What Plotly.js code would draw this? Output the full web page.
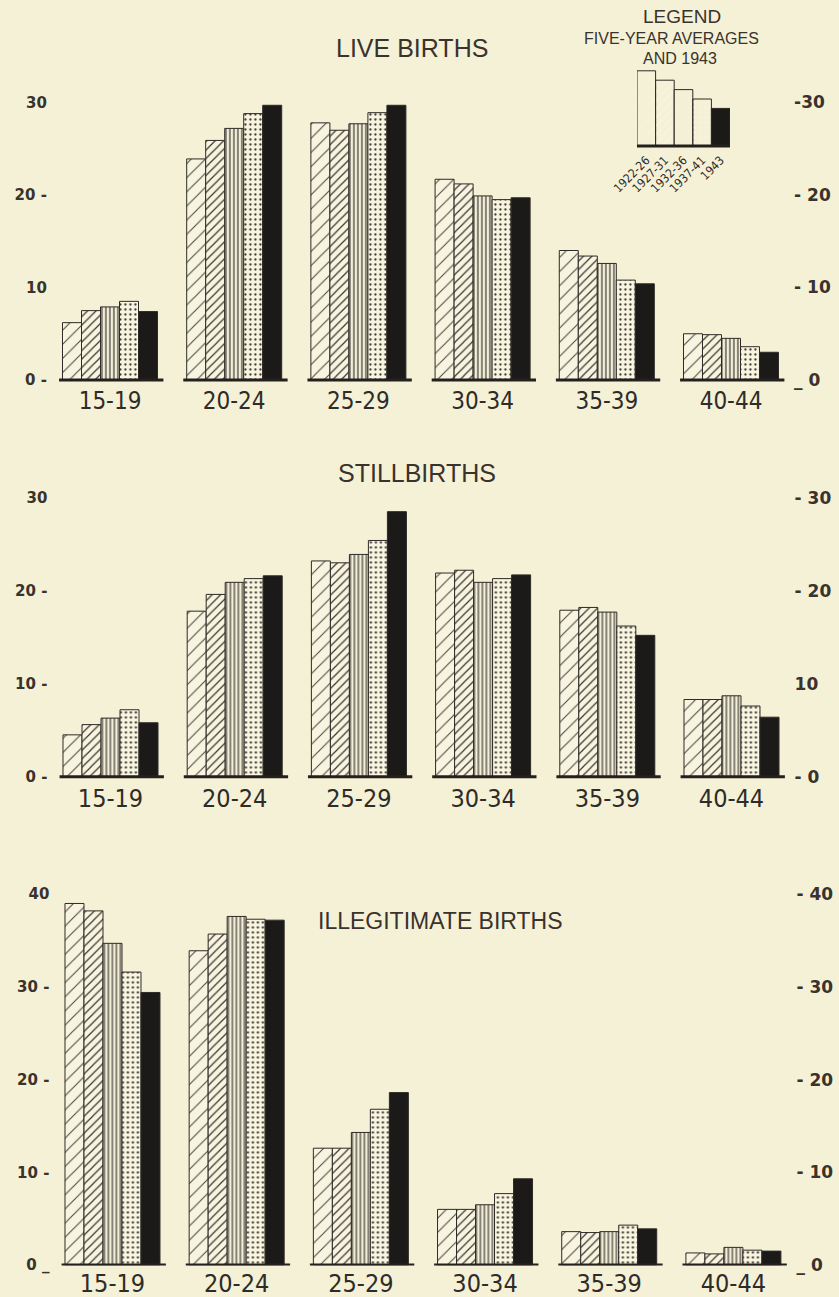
<!DOCTYPE html>
<html>
<head>
<meta charset="utf-8">
<script src="https://cdn.plot.ly/plotly-3.0.1.min.js"></script>
<style>
  html, body { margin: 0; padding: 0; background: #f4f1d7; }
  #chart { width: 839px; height: 1297px; }
</style>
</head>
<body>
<div id="chart"></div>
<script>
// ---------- data ----------
const ageGroups = ["15-19", "20-24", "25-29", "30-34", "35-39", "40-44"];
const periods = ["1922-26", "1927-31", "1932-36", "1937-41", "1943"];

// Live births, percent by age of mother (one array per period, ages in order)
const liveBirths1922 = [6.2, 23.9, 27.8, 21.7, 14.0, 5.0];
const liveBirths1927 = [7.5, 25.9, 27.0, 21.2, 13.4, 4.9];
const liveBirths1932 = [7.9, 27.2, 27.7, 19.9, 12.6, 4.5];
const liveBirths1937 = [8.5, 28.8, 28.9, 19.5, 10.8, 3.6];
const liveBirths1943 = [7.4, 29.7, 29.7, 19.7, 10.4, 3.0];

// Stillbirths
const stillBirths1922 = [4.5, 17.8, 23.2, 21.9, 17.9, 8.3];
const stillBirths1927 = [5.6, 19.6, 23.0, 22.2, 18.2, 8.3];
const stillBirths1932 = [6.3, 20.9, 23.9, 20.9, 17.7, 8.7];
const stillBirths1937 = [7.2, 21.3, 25.4, 21.3, 16.2, 7.6];
const stillBirths1943 = [5.8, 21.6, 28.5, 21.7, 15.2, 6.4];

// Illegitimate births
const illegit1922 = [39.0, 33.9, 12.6, 6.0, 3.6, 1.3];
const illegit1927 = [38.2, 35.7, 12.6, 6.0, 3.5, 1.2];
const illegit1932 = [34.7, 37.6, 14.3, 6.5, 3.6, 1.9];
const illegit1937 = [31.6, 37.3, 16.8, 7.7, 4.3, 1.6];
const illegit1943 = [29.4, 37.2, 18.6, 9.3, 3.9, 1.5];

// Legend key bars (illustrative staircase)
const legendHeights = [8, 7, 6, 5, 4];

const ticks30 = [0, 10, 20, 30];
const ticks40 = [0, 10, 20, 30, 40];

// ---------- styling ----------
const W = 839, H = 1297;
const BG = "#f4f1d7";
const INK = "#3a322d";
const FILL = "#f7f4e0";
const NARROW = "Liberation Sans Narrow, Arial Narrow, DejaVu Sans Condensed, sans-serif";
const styles = [
  { shape: "/", size: 10, solidity: 0.10, fg: "#4a4540", bg: FILL },
  { shape: "/", size: 6, solidity: 0.20, fg: "#3a3530", bg: FILL },
  { shape: "|", size: 4, solidity: 0.32, fg: "#4a4540", bg: "#f2efd8" },
  { shape: ".", size: 5, solidity: 0.16, fg: "#3a3530", bg: FILL },
  { shape: "", size: 8, solidity: 0.3, fg: "#1c1a19", bg: "#1c1a19" }
];

const panels = [
  { series: [liveBirths1922, liveBirths1927, liveBirths1932, liveBirths1937, liveBirths1943],
    base: 380, ppu: 9.25, top: 62, bottom: 384, xl: 47.9, xr: 793.1,
    tickv: ticks30, left: ["0 -", "10", "20 -", "30"], right: ["_ 0", "- 10", "- 20", "-30"], catSize: 24 },
  { series: [stillBirths1922, stillBirths1927, stillBirths1932, stillBirths1937, stillBirths1943],
    base: 776.7, ppu: 9.3, top: 470, bottom: 781, xl: 48.4, xr: 793.6,
    tickv: ticks30, left: ["0 -", "10 -", "20 -", "30"], right: ["- 0", "10", "- 20", "- 30"], catSize: 25 },
  { series: [illegit1922, illegit1927, illegit1932, illegit1937, illegit1943],
    base: 1265, ppu: 9.27, top: 870, bottom: 1265.5, xl: 50.4, xr: 795.5,
    tickv: ticks40, left: ["0 _", "10 -", "20 -", "30 -", "40"], right: ["_ 0", "- 10", "- 20", "- 30", "- 40"], catSize: 25 }
];

const data = [];
const shapes = [];
const layout = {
  width: W, height: H,
  margin: { l: 0, r: 0, t: 0, b: 0 },
  paper_bgcolor: BG, plot_bgcolor: "rgba(0,0,0,0)",
  showlegend: false,
  barmode: "group", bargap: 0.235, bargroupgap: 0,
  annotations: [], shapes: shapes
};

panels.forEach((p, k) => {
  const xa = k === 0 ? "x" : "x" + (k + 1);
  const ya = k === 0 ? "y" : "y" + (k + 1);
  const yr = "y" + (k + 4);
  const yRange = [-(p.bottom - p.base) / p.ppu, (p.base - p.top) / p.ppu];
  const yDom = [1 - p.bottom / H, 1 - p.top / H];

  p.series.forEach((vals, s) => {
    const st = styles[s];
    const m = { color: st.bg, line: { width: 1, color: "#2e2a27" } };
    if (st.shape) m.pattern = { shape: st.shape, size: st.size, solidity: st.solidity, fgcolor: st.fg, bgcolor: st.bg, fillmode: "replace" };
    data.push({ type: "bar", name: periods[s], x: ageGroups, y: vals, xaxis: xa, yaxis: ya, marker: m, hoverinfo: "x+y+name" });
  });
  // invisible trace to host the right-hand axis
  data.push({ type: "scatter", mode: "markers", x: [ageGroups[0]], y: [0], xaxis: xa, yaxis: yr,
              marker: { opacity: 0 }, hoverinfo: "skip", showlegend: false });

  layout["xaxis" + (k === 0 ? "" : k + 1)] = {
    domain: [p.xl / W, p.xr / W], anchor: ya, type: "category",
    range: [-0.5, ageGroups.length - 0.5],
    showgrid: false, zeroline: false, showline: false, ticks: "",
    tickfont: { family: NARROW, size: p.catSize, color: "#2f2b28" },
    fixedrange: true
  };
  const yCommon = {
    domain: yDom, range: yRange, showgrid: false, zeroline: false, showline: false, ticks: "",
    tickmode: "array", tickvals: p.tickv, fixedrange: true
  };
  layout["yaxis" + (k === 0 ? "" : k + 1)] = Object.assign({}, yCommon, {
    anchor: xa, side: "left", ticktext: p.left,
    tickfont: { family: "DejaVu Sans, sans-serif", size: 15, weight: "bold", color: INK }
  });
  layout["yaxis" + (k + 4)] = Object.assign({}, yCommon, {
    anchor: xa, overlaying: ya, side: "right", ticktext: p.right,
    tickfont: { family: "DejaVu Sans, sans-serif", size: 17, weight: "bold", color: INK }
  });

  ageGroups.forEach((g, i) => {
    shapes.push({ type: "line", xref: xa, yref: ya, x0: i - 0.41, x1: i + 0.43, y0: 0, y1: 0,
                  line: { width: 3, color: "#24201e" }, layer: "above" });
  });
});

// ---------- legend key as a small bar chart ----------
const lg = { base: 146, ppu: 9.4, top: 60, bottom: 150, xl: 637, xr: 730 };
data.push({
  type: "bar", x: periods, y: legendHeights, xaxis: "x4", yaxis: "y7", width: 1,
  marker: {
    color: styles.map(s => s.bg),
    line: { width: 1, color: "#2e2a27" },
    pattern: {
      shape: styles.map(s => s.shape), size: styles.map(s => s.size),
      solidity: styles.map(s => s.solidity), fgcolor: styles.map(s => s.fg),
      bgcolor: styles.map(s => s.bg), fillmode: "replace"
    }
  },
  hoverinfo: "x"
});
layout.xaxis4 = {
  domain: [lg.xl / W, lg.xr / W], anchor: "y7", type: "category", range: [-0.5, periods.length - 0.5],
  tickmode: "array", tickvals: periods, ticktext: periods,
  showgrid: false, zeroline: false, showline: false, ticks: "", tickangle: -45,
  tickfont: { family: NARROW, size: 12, color: "#2f2b28" }, fixedrange: true
};
layout.yaxis7 = {
  domain: [1 - lg.bottom / H, 1 - lg.top / H], anchor: "x4",
  range: [-(lg.bottom - lg.base) / lg.ppu, (lg.base - lg.top) / lg.ppu],
  showgrid: false, zeroline: false, showline: false, showticklabels: false, ticks: "", fixedrange: true
};
shapes.push({ type: "line", xref: "x4", yref: "y7", x0: -0.98, x1: periods.length - 0.07, y0: 0, y1: 0,
              line: { width: 3, color: "#24201e" }, layer: "above" });

// ---------- titles ----------
function note(text, xPx, yPx, size) {
  layout.annotations.push({ text: text, xref: "paper", yref: "paper", x: xPx / W, y: 1 - yPx / H,
    xanchor: "center", yanchor: "middle", showarrow: false,
    font: { family: "Liberation Sans, Arial, sans-serif", size: size, color: INK } });
}
note("LIVE BIRTHS", 412, 48, 25);
note("STILLBIRTHS", 417, 473, 25);
note("ILLEGITIMATE BIRTHS", 440, 921, 23);
note("LEGEND", 682, 17, 19);
note("FIVE-YEAR AVERAGES", 671, 39, 16);
note("AND 1943", 680, 58, 16);

Plotly.newPlot("chart", data, layout, { staticPlot: true, displayModeBar: false });
</script>
</body>
</html>
